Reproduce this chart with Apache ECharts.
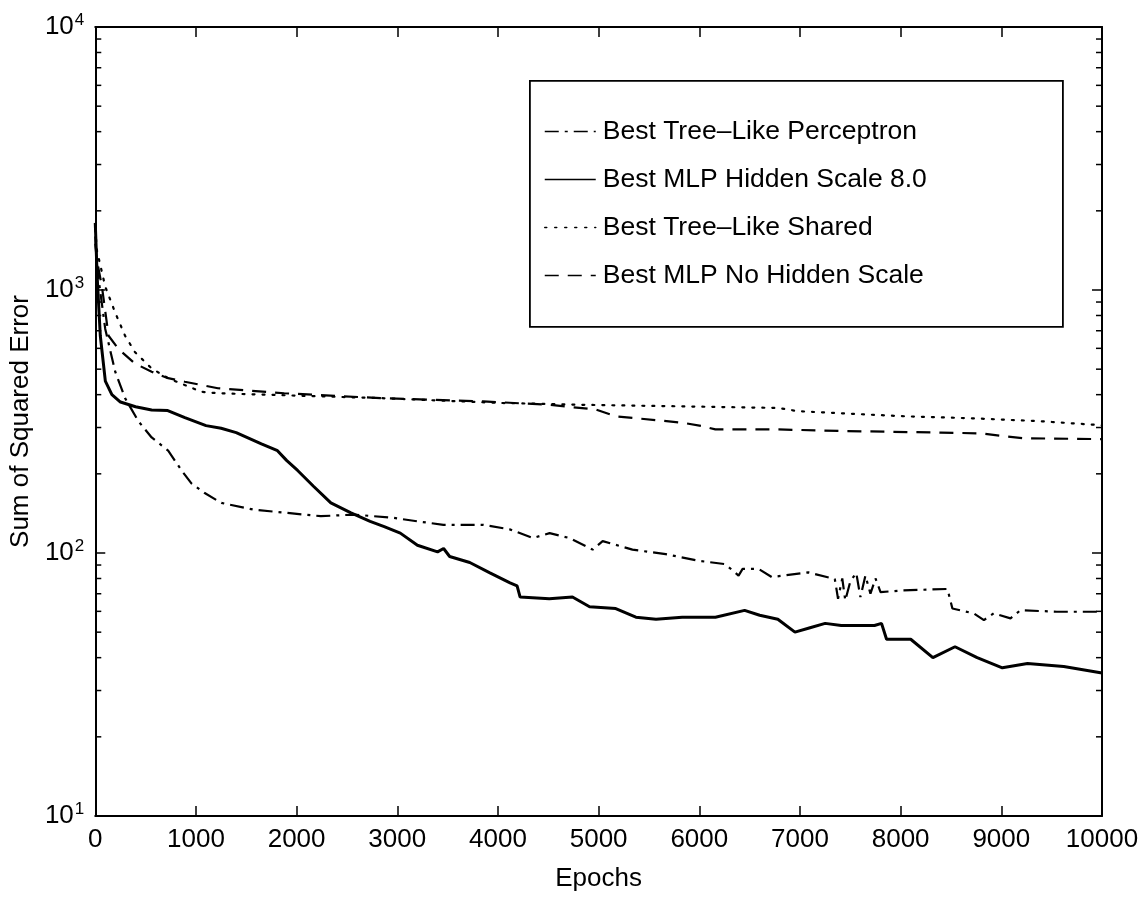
<!DOCTYPE html>
<html>
<head>
<meta charset="utf-8">
<script src="https://cdn.jsdelivr.net/npm/echarts@6/dist/echarts.min.js"></script>
<style>
html,body{margin:0;padding:0;background:#fff;}
#chart{width:1145px;height:897px;}
</style>
</head>
<body>
<div id="chart"></div>
<script>
// ---- data ----
const seriesNames = [
  'Best Tree\u2013Like Perceptron',
  'Best MLP Hidden Scale 8.0',
  'Best Tree\u2013Like Shared',
  'Best MLP No Hidden Scale'
];
const xTicks = [0,1000,2000,3000,4000,5000,6000,7000,8000,9000,10000];
const yTicks = [10,100,1000,10000];

const treePerceptron = [[0,1600],[20,1200],[99,711],[198,489],[296,388],[428,317],[560,275],[724,245],[857,206],[955,184],[1087,169],[1252,155],[1581,146],[1910,142],[2240,138],[2569,140],[2964,136],[3195,132],[3458,128],[3854,128],[4117,123],[4348,114],[4513,119],[4710,114],[4941,103],[5040,111],[5336,103],[5666,99],[5995,93.4],[6258,90.7],[6390,82],[6430,87],[6588,87],[6719,81],[7082,84.4],[7346,79.6],[7378,67],[7420,80],[7450,66],[7500,78],[7559,84],[7600,68],[7650,82],[7700,70],[7750,80],[7800,71],[8004,72],[8465,73],[8514,61.5],[8728,58.9],[8827,55.6],[8926,59],[9091,56.4],[9190,60.6],[9552,59.8],[10000,59.8]];

const mlpHidden8 = [[0,1800],[10,1400],[20,1100],[50,670],[100,450],[165,400],[250,375],[400,360],[560,350],[720,348],[890,327],[1100,305],[1250,298],[1400,287],[1650,260],[1810,245],[1900,225],[2010,206],[2170,179],[2340,155],[2540,142],[2730,132],[2870,126],[3030,119],[3200,107],[3400,101],[3460,104],[3520,97],[3720,92],[3920,84],[4120,77],[4190,75],[4220,68],[4510,67],[4740,68],[4910,62.5],[5170,61.5],[5370,57],[5570,56],[5830,57],[6160,57],[6450,60.5],[6600,58],[6780,56],[6950,50],[7100,52],[7250,54],[7410,53],[7740,53],[7810,54],[7860,47],[8100,47],[8320,40],[8540,44],[8760,40],[9010,36.6],[9260,38],[9620,37],[10000,35]];

const treeShared = [[0,1700],[16,1415],[99,1030],[198,820],[296,670],[395,580],[560,503],[724,462],[1054,410],[1218,405],[1877,398],[2833,388],[4018,372],[4842,366],[5830,361],[6785,356],[6982,346],[8036,331],[8728,325],[9387,317],[10000,306]];

const mlpNoHidden = [[0,1500],[16,1300],[66,1030],[132,670],[230,597],[395,525],[560,489],[724,462],[889,448],[1218,423],[1877,405],[2833,388],[3854,377],[4513,366],[4974,351],[5171,331],[5830,313],[6028,304],[6159,295],[6785,295],[7411,291],[8399,287],[8794,285],[8992,279],[9223,273],[10000,271]];

// ---- chart ----
const FONT = '"Liberation Sans", Arial, Helvetica, sans-serif';
const chart = echarts.init(document.getElementById('chart'), null, {renderer:'canvas'});

// minor log ticks (2..9 x 10^k) on left and right edges
const minorTickVals = [];
[10,100,1000].forEach(d => { for (let m=2;m<=9;m++) minorTickVals.push(m*d); });
const minorTickData = [];
minorTickVals.forEach(v => { minorTickData.push([0, v, 1]); minorTickData.push([10000, v, -1]); });

function ySup(v){
  const e = Math.round(Math.log10(v));
  return '{b|10}{s|' + e + '}';
}

const lineBase = {type:'line', symbol:'none', showSymbol:false, smooth:false, animation:false, z:3};

chart.setOption({
  animation:false,
  backgroundColor:'#ffffff',
  textStyle:{fontFamily:FONT, color:'#000'},
  grid:{left:90, right:43, top:27, bottom:70, containLabel:false},
  legend:{
    show:true, orient:'vertical', left:539, top:111,
    itemWidth:51, itemHeight:14, itemGap:17,
    itemStyle:{opacity:0},
    lineStyle:{color:'#000', width:1.5},
    textStyle:{fontFamily:FONT, fontSize:26.5, color:'#000', lineHeight:31, padding:[0,0,0,2]},
    data: seriesNames.slice(),
    inactiveColor:'#000'
  },
  xAxis:[{
    type:'value', min:0, max:10000, interval:1000, position:'bottom',
    name:'Epochs', nameLocation:'middle', nameGap:50,
    nameTextStyle:{fontFamily:FONT, fontSize:26, color:'#000'},
    axisLine:{show:true, onZero:false, lineStyle:{color:'#000', width:2}},
    axisTick:{show:true, inside:true, length:10, lineStyle:{color:'#000', width:1.5}},
    axisLabel:{show:true, margin:11, fontFamily:FONT, fontSize:26, color:'#000',
      formatter:function(v){ return String(v); }},
    splitLine:{show:false}
  },{
    type:'value', min:0, max:10000, interval:1000, position:'top',
    axisLine:{show:true, onZero:false, lineStyle:{color:'#000', width:2}},
    axisTick:{show:true, inside:true, length:10, lineStyle:{color:'#000', width:1.5}},
    axisLabel:{show:false}, splitLine:{show:false}
  }],
  yAxis:[{
    type:'log', logBase:10, min:10, max:10000, position:'left',
    name:'Sum of Squared Error', nameLocation:'middle', nameGap:56, nameRotate:90,
    nameTextStyle:{fontFamily:FONT, fontSize:26, color:'#000'},
    axisLine:{show:true, onZero:false, lineStyle:{color:'#000', width:2}},
    axisTick:{show:true, inside:true, length:10, lineStyle:{color:'#000', width:1.5}},
    axisLabel:{show:true, margin:11, formatter:ySup,
      rich:{b:{fontFamily:FONT, fontSize:26, color:'#000'},
            s:{fontFamily:FONT, fontSize:17, color:'#000', padding:[0,0,14,1]}}},
    splitLine:{show:false}
  },{
    type:'log', logBase:10, min:10, max:10000, position:'right',
    axisLine:{show:true, onZero:false, lineStyle:{color:'#000', width:2}},
    axisTick:{show:true, inside:true, length:10, lineStyle:{color:'#000', width:1.5}},
    axisLabel:{show:false}, splitLine:{show:false}
  }],
  graphic:[{
    type:'rect', left:529, top:80, z:1,
    shape:{width:533, height:246},
    style:{fill:'#fff', stroke:'#000', lineWidth:1.8}
  }],
  series:[
    Object.assign({}, lineBase, {name:seriesNames[0], data:treePerceptron,
      lineStyle:{color:'#000', width:2.2, type:[14,6,3,6]}, itemStyle:{color:'#000'}}),
    Object.assign({}, lineBase, {name:seriesNames[1], data:mlpHidden8,
      lineStyle:{color:'#000', width:3, type:'solid'}, itemStyle:{color:'#000'}}),
    Object.assign({}, lineBase, {name:seriesNames[2], data:treeShared,
      lineStyle:{color:'#000', width:2.2, type:[2,8], cap:'round'}, itemStyle:{color:'#000'}}),
    Object.assign({}, lineBase, {name:seriesNames[3], data:mlpNoHidden,
      lineStyle:{color:'#000', width:2.2, type:[14,9]}, itemStyle:{color:'#000'}}),
    {
      type:'custom', name:'minorTicks', data:minorTickData, silent:true, clip:false, z:4,
      renderItem:function(params, api){
        const p = api.coord([api.value(0), api.value(1)]);
        const dir = api.value(2);
        return {type:'line', shape:{x1:p[0], y1:p[1], x2:p[0]+dir*6, y2:p[1]},
                style:{stroke:'#000', lineWidth:1.5}};
      }
    }
  ]
});
</script>
</body>
</html>
